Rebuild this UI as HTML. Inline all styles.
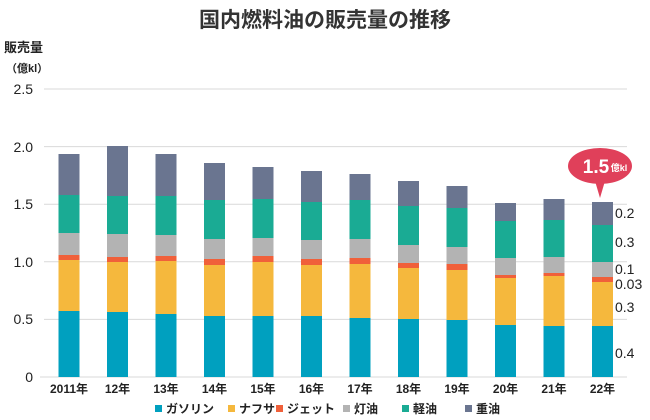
<!DOCTYPE html>
<html><head><meta charset="utf-8"><style>
body{margin:0;background:#fff;}
svg{display:block;font-family:"Liberation Sans","Noto Sans CJK JP",sans-serif;}
</style></head><body>
<svg width="650" height="420" viewBox="0 0 650 420">
<text x="325" y="27" text-anchor="middle" font-size="21" font-weight="bold" fill="#333">国内燃料油の販売量の推移</text>
<text x="4" y="52" font-size="13" font-weight="bold" fill="#222">販売量</text>
<text x="6" y="72" font-size="11" font-weight="bold" fill="#222">（億kl）</text>
<g stroke="#d9d9d9" stroke-width="1">
<line x1="44" x2="627" y1="89" y2="89"/><line x1="44" x2="627" y1="146.6" y2="146.6"/><line x1="44" x2="627" y1="204.2" y2="204.2"/><line x1="44" x2="627" y1="261.8" y2="261.8"/><line x1="44" x2="627" y1="319.4" y2="319.4"/><line x1="40" x2="627" y1="377" y2="377"/>
</g>
<g font-size="14" fill="#222" text-anchor="end">
<text x="33" y="94">2.5</text><text x="33" y="152">2.0</text><text x="33" y="209">1.5</text><text x="33" y="267">1.0</text><text x="33" y="324">0.5</text><text x="33" y="382">0</text>
</g>
<g id="bars"></g>
<g font-size="12" font-weight="bold" fill="#222" text-anchor="middle" id="xl"></g>
<g transform="translate(600,166)">
<ellipse cx="0" cy="0" rx="32" ry="18" fill="#e0405a"/>
<path d="M-5 15 L0 32 L5 15 Z" fill="#e0405a"/>
<text x="-4" y="7" font-size="19" font-weight="bold" fill="#fff" text-anchor="middle">1.5</text>
<text x="19" y="5" font-size="9" font-weight="bold" fill="#fff" text-anchor="middle">億kl</text>
</g>
<g font-size="14" fill="#222">
<text x="615" y="218">0.2</text><text x="615" y="247">0.3</text><text x="615" y="274">0.1</text><text x="615" y="289">0.03</text><text x="615" y="312">0.3</text><text x="615" y="358">0.4</text>
</g>
<g font-size="12" font-weight="bold" fill="#222">
<rect x="155" y="405" width="7" height="7" fill="#00a0bf"/><text x="166" y="413">ガソリン</text>
<rect x="228" y="405" width="7" height="7" fill="#f5b83d"/><text x="239" y="413">ナフサ</text>
<rect x="276" y="405" width="7" height="7" fill="#f0603a"/><text x="287" y="413">ジェット</text>
<rect x="343" y="405" width="7" height="7" fill="#b3b3b3"/><text x="354" y="413">灯油</text>
<rect x="402" y="405" width="7" height="7" fill="#1aab94"/><text x="413" y="413">軽油</text>
<rect x="465" y="405" width="7" height="7" fill="#6a7590"/><text x="476" y="413">重油</text>
</g>
</svg>
<script>
var d=[[311,260,255,233,195,154],[312,262,257,234,196,146],[314,261,256,235,196,154],[316,265,259,239,200,163],[316,262,256,238,199,167],[316,265,259,240,202,171],[318,264,258,239,200,174],[319,268,263,245,206,181],[320,270,264,247,208,186],[325,278,275,258,221,203],[326,276,273,257,220,199],[326,282,277,262,225,202]];
var c=["#00a0bf","#f5b83d","#f0603a","#b3b3b3","#1aab94","#6a7590"];
var lb=["2011年","12年","13年","14年","15年","16年","17年","18年","19年","20年","21年","22年"];
var ns="http://www.w3.org/2000/svg",g=document.getElementById("bars"),xl=document.getElementById("xl");
d.forEach(function(r,i){var cx=69+48.5*i,prev=377;
r.forEach(function(t,j){var e=document.createElementNS(ns,"rect");e.setAttribute("x",cx-10.5);e.setAttribute("width",21);e.setAttribute("y",t);e.setAttribute("height",prev-t);e.setAttribute("fill",c[j]);g.appendChild(e);prev=t;});
var tx=document.createElementNS(ns,"text");tx.setAttribute("x",cx);tx.setAttribute("y",393);tx.textContent=lb[i];xl.appendChild(tx);});
</script>
</body></html>
